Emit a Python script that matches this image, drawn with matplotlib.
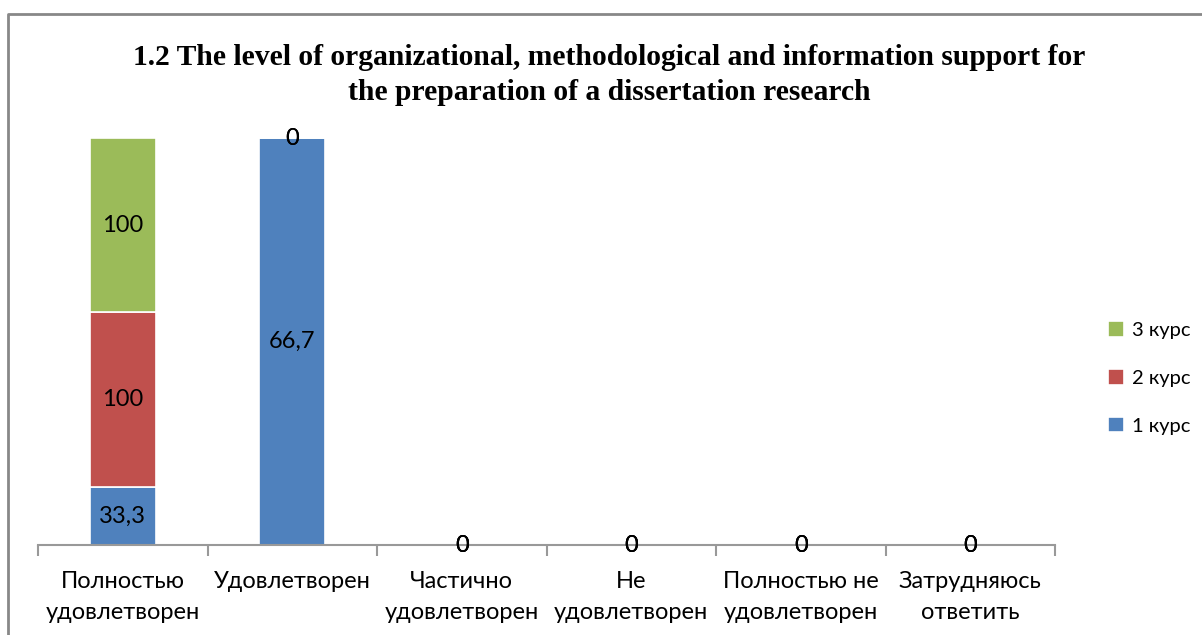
import numpy as np
import matplotlib
matplotlib.use("Agg")
from matplotlib import pyplot as plt
from matplotlib.lines import Line2D

categories = ["Полностью\nудовлетворен", "Удовлетворен", "Частично\nудовлетворен",
              "Не\nудовлетворен", "Полностью не\nудовлетворен", "Затрудняюсь\nответить"]
series_names = ["1 курс", "2 курс", "3 курс"]
kurs1 = [33.3, 66.7, 0, 0, 0, 0]
kurs2 = [100, 0, 0, 0, 0, 0]
kurs3 = [100, 0, 0, 0, 0, 0]
colors = ["#4f81bd", "#c0504d", "#9bbb59"]

title = ("1.2 The level of organizational, methodological and information support for\n"
         "the preparation of a dissertation research")

fig = plt.figure(figsize=(12.02, 6.35), dpi=100)
ax = fig.add_axes([38 / 1202, 1 - 545 / 635, (1055 - 38) / 1202, (545 - 138) / 635])

data = np.array([kurs1, kurs2, kurs3], dtype=float)
totals = data.sum(axis=0)
# 100% stacked, empty columns stay at zero
share = np.divide(data, totals, out=np.zeros_like(data), where=totals > 0) * 100

x = np.arange(len(categories))
bottom = np.zeros(len(categories))
for i, name in enumerate(series_names):
    ax.bar(x, share[i], 0.39, bottom=bottom, color=colors[i], edgecolor="white",
           linewidth=1.2, label=name)
    for j in range(len(categories)):
        lab = ("%g" % data[i, j]).replace(".", ",")
        ax.text(x[j], bottom[j] + share[i, j] / 2, lab, ha="center", va="center",
                fontsize=17, family="Lato", color="black")
    bottom += share[i]

ax.set_xlim(-0.5, len(categories) - 0.5)
ax.set_ylim(0, 100)
ax.set_yticks([])
for s in ["top", "right", "left"]:
    ax.spines[s].set_visible(False)
ax.spines["bottom"].set_color("#999999")
ax.spines["bottom"].set_linewidth(1.5)

ax.set_xticks(x)
ax.set_xticklabels(categories, fontsize=17, family="Lato", linespacing=1.55)
ax.tick_params(axis="x", which="major", length=0, pad=19)
ax.set_xticks(np.arange(-0.5, len(categories)), minor=True)
ax.tick_params(axis="x", which="minor", length=8, width=1.5, color="#999999")

h, l = ax.get_legend_handles_labels()
fig.legend(h[::-1], l[::-1], loc="center left", bbox_to_anchor=(1090 / 1202, 1 - 378 / 635),
           frameon=False, prop={"family": "Lato", "size": 14.5},
           handlelength=0.8, handleheight=0.8, handletextpad=0.4, labelspacing=1.5)

fig.text(609 / 1202, 1 - 75 / 635, title, ha="center", va="center", fontsize=21.3,
         fontweight="bold", family="Liberation Serif", linespacing=1.35)

fig.add_artist(Line2D([8 / 1202, 8 / 1202, 1], [0, 1 - 14 / 635, 1 - 14 / 635],
                      transform=fig.transFigure, color="#888888", linewidth=2))

fig.savefig("out.png", dpi=100)
